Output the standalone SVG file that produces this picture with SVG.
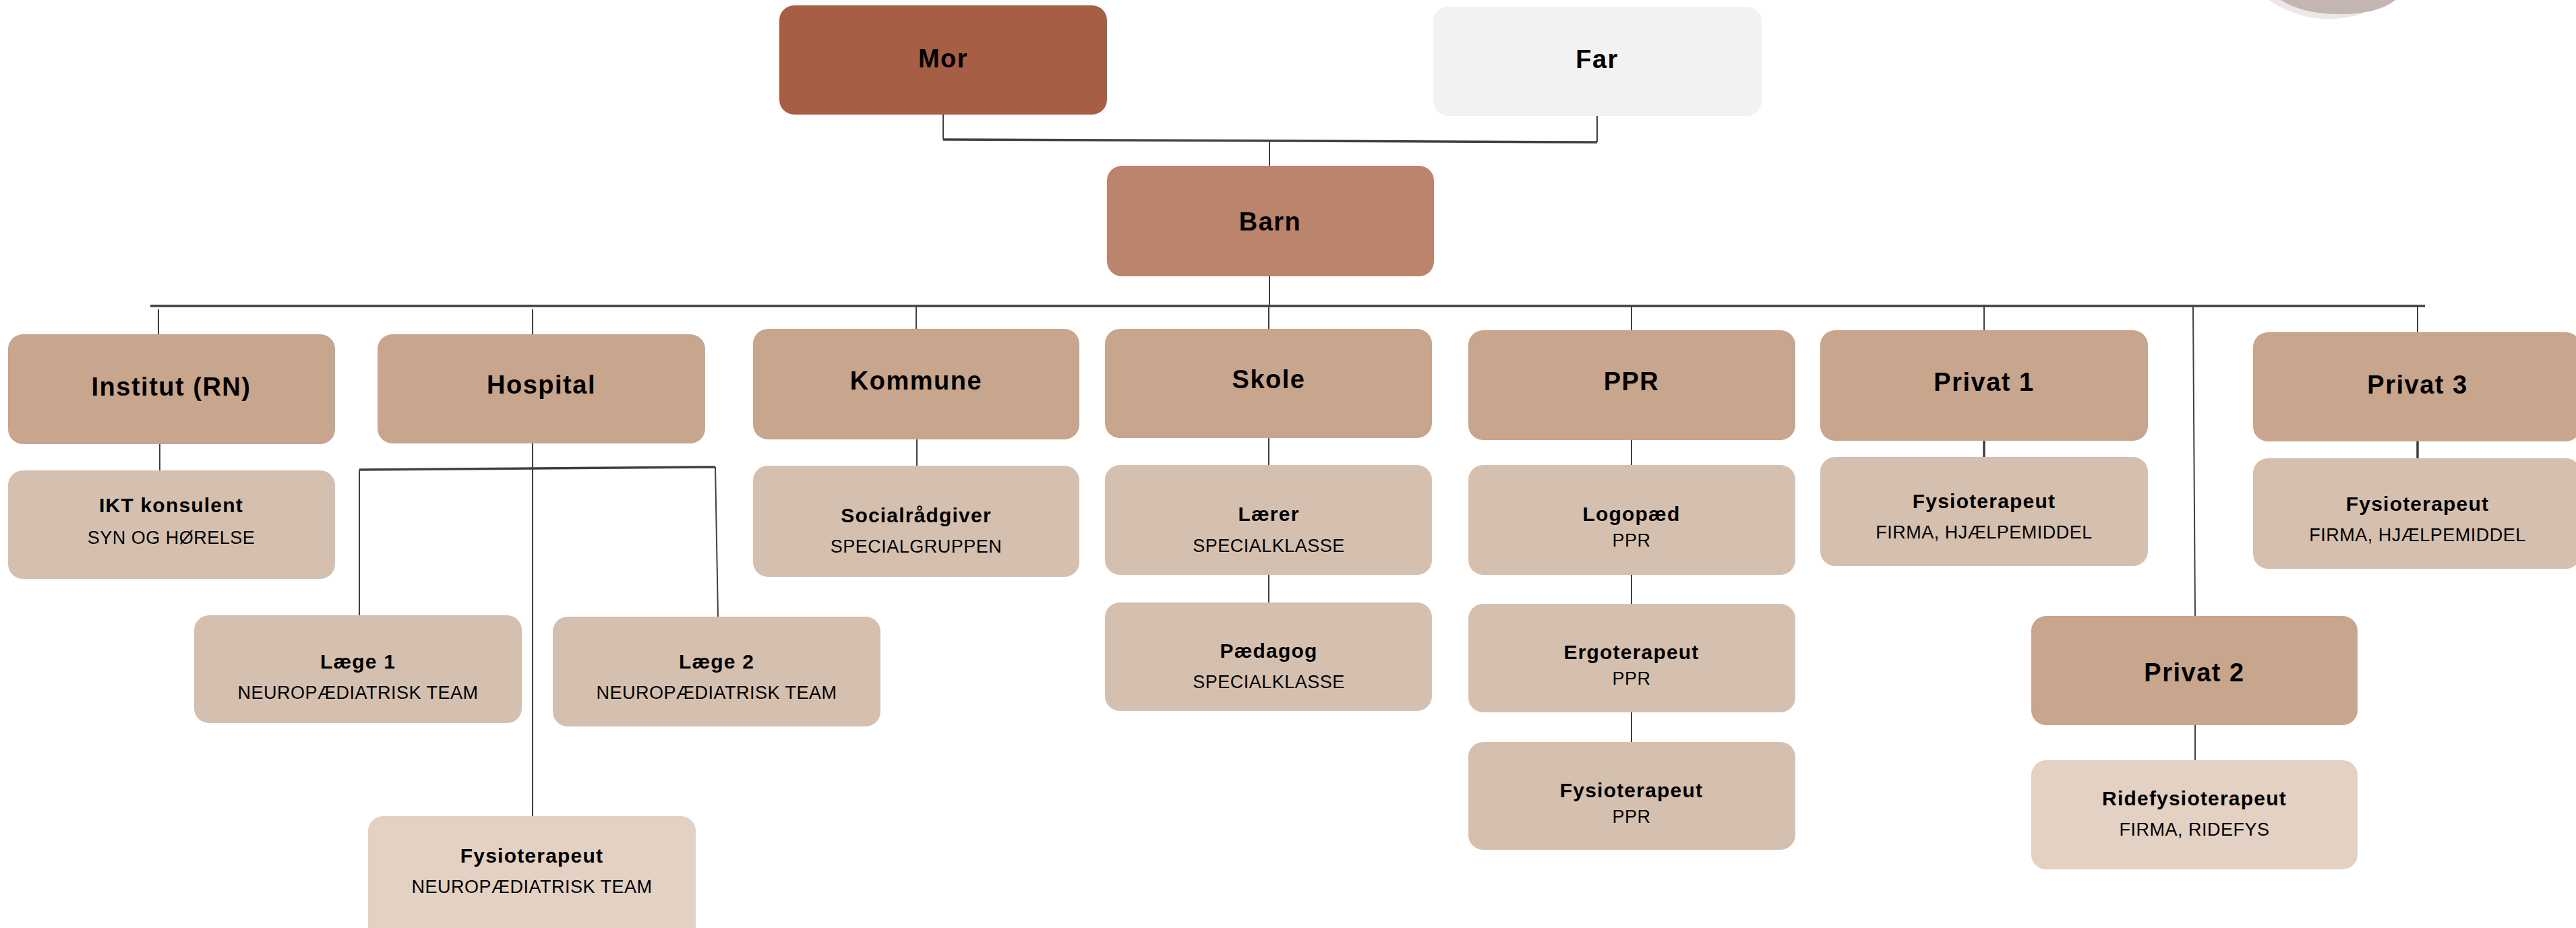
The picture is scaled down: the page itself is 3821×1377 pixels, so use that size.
<svg xmlns="http://www.w3.org/2000/svg" width="3821" height="1377" viewBox="0 0 3821 1377">
<style>
.box{stroke:none}
.mor{fill:#A65F44}
.far{fill:#F2F2F2}
.barn{fill:#BB846D}
.l1{fill:#C8A58D}
.l2{fill:#D5C0B0}
.l3{fill:#E3D1C4}
.t1{font-family:"Liberation Sans",Arial,sans-serif;font-weight:bold;font-size:38px;letter-spacing:1.5px;fill:#000;text-anchor:middle}
.t2{font-family:"Liberation Sans",Arial,sans-serif;font-weight:bold;font-size:30px;letter-spacing:1.2px;fill:#000;text-anchor:middle}
.t3{font-family:"Liberation Sans",Arial,sans-serif;font-size:27px;letter-spacing:0.5px;fill:#000;text-anchor:middle}
.c{stroke:#404040;stroke-width:2;fill:none}
.cb{stroke:#404040;stroke-width:3.5;fill:none}
</style>
<rect width="3821" height="1377" fill="#FFFFFF"/>
<g id="decor">
<path d="M3365,0 C3395,20 3430,30 3462,28 C3480,27 3495,23 3505,20 L3505,0 Z" fill="#ECE8E6"/>
<path d="M3383,0 C3405,14 3435,21 3470,21 C3510,21 3535,14 3553,0 Z" fill="#C4B5B0"/>
</g>
<g id="connectors">
<path class="c" d="M1399,170 V207 M2369,172 V211 M1883,209 V246"/>
<path class="cb" d="M1399,207 L2369,211"/>
<path class="c" d="M1883,410 V452"/>
<path class="cb" d="M223,454 H3597"/>
<path class="c" d="M235,459 V496 M790,459 V496 M1359,454 V488 M1882,452 V488 M2420,455 V490 M2943,452 V490 M3253,454 L3256,914 M3586,454 V493"/>
<path class="c" d="M237,659 V698"/>
<path class="c" d="M790,658 V1211 M533,697 V913 M1061,693 L1065,915"/>
<path class="cb" d="M533,697 L1061,693"/>
<path class="c" d="M1360,652 V691"/>
<path class="c" d="M1882,650 V690 M1882,853 V894"/>
<path class="c" d="M2420,653 V690 M2420,853 V896 M2420,1057 V1101"/>
<path class="cb" d="M2943,654 V678 M3586,655 V680"/>
<path class="c" d="M3256,1076 V1128"/>
</g>
<g id="mor"><rect class="box mor" x="1156" y="8" width="486" height="162" rx="22"/><text class="t1" x="1399" y="100">Mor</text></g>
<g id="far"><rect class="box far" x="2126" y="10" width="487" height="162" rx="22"/><text class="t1" x="2369" y="101">Far</text></g>
<g id="barn"><rect class="box barn" x="1642" y="246" width="485" height="164" rx="22"/><text class="t1" x="1884" y="342">Barn</text></g>
<g id="institut"><rect class="box l1" x="12" y="496" width="485" height="163" rx="22"/><text class="t1" x="254" y="587">Institut (RN)</text></g>
<g id="hospital"><rect class="box l1" x="560" y="496" width="486" height="162" rx="22"/><text class="t1" x="803" y="584">Hospital</text></g>
<g id="kommune"><rect class="box l1" x="1117" y="488" width="484" height="164" rx="22"/><text class="t1" x="1359" y="578">Kommune</text></g>
<g id="skole"><rect class="box l1" x="1639" y="488" width="485" height="162" rx="22"/><text class="t1" x="1882" y="576">Skole</text></g>
<g id="ppr"><rect class="box l1" x="2178" y="490" width="485" height="163" rx="22"/><text class="t1" x="2420" y="579">PPR</text></g>
<g id="privat1"><rect class="box l1" x="2700" y="490" width="486" height="164" rx="22"/><text class="t1" x="2943" y="580">Privat 1</text></g>
<g id="privat3"><rect class="box l1" x="3342" y="493" width="486" height="162" rx="22"/><text class="t1" x="3586" y="584">Privat 3</text></g>
<g id="privat2"><rect class="box l1" x="3013" y="914" width="484" height="162" rx="22"/><text class="t1" x="3255" y="1011">Privat 2</text></g>
<g id="ikt"><rect class="box l2" x="12" y="698" width="485" height="161" rx="22"/><text class="t2" x="254" y="760">IKT konsulent</text><text class="t3" x="254" y="807">SYN OG HØRELSE</text></g>
<g id="laege1"><rect class="box l2" x="288" y="913" width="486" height="160" rx="22"/><text class="t2" x="531" y="992">Læge 1</text><text class="t3" x="531" y="1037">NEUROPÆDIATRISK TEAM</text></g>
<g id="laege2"><rect class="box l2" x="820" y="915" width="486" height="163" rx="22"/><text class="t2" x="1063" y="992">Læge 2</text><text class="t3" x="1063" y="1037">NEUROPÆDIATRISK TEAM</text></g>
<g id="fysio-hospital"><rect class="box l3" x="546" y="1211" width="486" height="185" rx="22"/><text class="t2" x="789" y="1280">Fysioterapeut</text><text class="t3" x="789" y="1325">NEUROPÆDIATRISK TEAM</text></g>
<g id="socialraadgiver"><rect class="box l2" x="1117" y="691" width="484" height="165" rx="22"/><text class="t2" x="1359" y="775">Socialrådgiver</text><text class="t3" x="1359" y="820">SPECIALGRUPPEN</text></g>
<g id="laerer"><rect class="box l2" x="1639" y="690" width="485" height="163" rx="22"/><text class="t2" x="1882" y="773">Lærer</text><text class="t3" x="1882" y="819">SPECIALKLASSE</text></g>
<g id="paedagog"><rect class="box l2" x="1639" y="894" width="485" height="161" rx="22"/><text class="t2" x="1882" y="976">Pædagog</text><text class="t3" x="1882" y="1021">SPECIALKLASSE</text></g>
<g id="logopaed"><rect class="box l2" x="2178" y="690" width="485" height="163" rx="22"/><text class="t2" x="2420" y="773">Logopæd</text><text class="t3" x="2420" y="811">PPR</text></g>
<g id="ergoterapeut"><rect class="box l2" x="2178" y="896" width="485" height="161" rx="22"/><text class="t2" x="2420" y="978">Ergoterapeut</text><text class="t3" x="2420" y="1016">PPR</text></g>
<g id="fysio-ppr"><rect class="box l2" x="2178" y="1101" width="485" height="160" rx="22"/><text class="t2" x="2420" y="1183">Fysioterapeut</text><text class="t3" x="2420" y="1221">PPR</text></g>
<g id="fysio-privat1"><rect class="box l2" x="2700" y="678" width="486" height="162" rx="22"/><text class="t2" x="2943" y="754">Fysioterapeut</text><text class="t3" x="2943" y="799">FIRMA, HJÆLPEMIDDEL</text></g>
<g id="fysio-privat3"><rect class="box l2" x="3342" y="680" width="486" height="164" rx="22"/><text class="t2" x="3586" y="758">Fysioterapeut</text><text class="t3" x="3586" y="803">FIRMA, HJÆLPEMIDDEL</text></g>
<g id="ridefysioterapeut"><rect class="box l3" x="3013" y="1128" width="484" height="162" rx="22"/><text class="t2" x="3255" y="1195">Ridefysioterapeut</text><text class="t3" x="3255" y="1240">FIRMA, RIDEFYS</text></g>
</svg>
